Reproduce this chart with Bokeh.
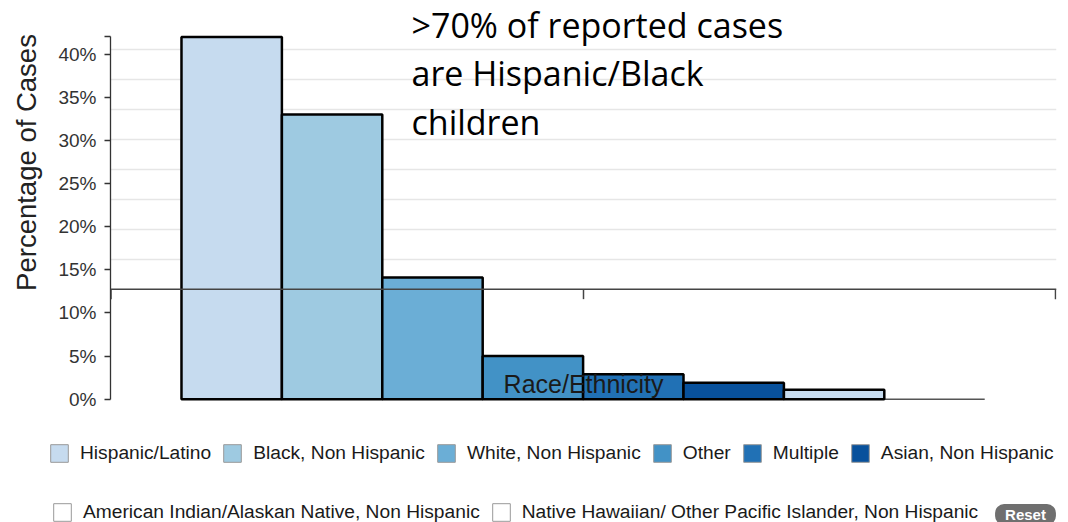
import math

from bokeh.plotting import figure
from bokeh.layouts import column, row
from bokeh.models import (ColumnDataSource, Range1d, FixedTicker, CustomJSTickFormatter,
                          Span, Label, Legend, LegendItem)
from bokeh.embed import file_html
from bokeh.resources import INLINE

# ---- data -------------------------------------------------------------
categories = [
    "Hispanic/Latino",
    "Black, Non Hispanic",
    "White, Non Hispanic",
    "Other",
    "Multiple",
    "Asian, Non Hispanic",
    "American Indian/Alaskan Native, Non Hispanic",
    "Native Hawaiian/ Other Pacific Islander, Non Hispanic",
]
pct_cases = [42.0, 33.0, 14.1, 5.0, 2.9, 1.9, 1.1, 0.0]
bar_colors = ["#c6dbef", "#9ecae1", "#6baed6", "#4292c6", "#2171b5", "#08519c",
              "#c6dbef", "#9ecae1"]
legend_colors = ["#c6dbef", "#9ecae1", "#6baed6", "#4292c6", "#2171b5", "#08519c",
                 "#ffffff", "#ffffff"]
y_ticks = [0, 5, 10, 15, 20, 25, 30, 35, 40]
y_axis_top = 42.0
ref_level = 12.75
grid_step = 3.47
annotation_lines = [">70% of reported cases", "are Hispanic/Black", "children"]
x_title = "Race/Ethnicity"
y_title = "Percentage of Cases"

SANS = "Liberation Sans"
CHART_H = 425
LEGEND_H = 522 - CHART_H


def blank_figure(width, height):
    f = figure(width=width, height=height, x_range=Range1d(0, 1), y_range=Range1d(0, 1),
               x_axis_type=None, y_axis_type=None, toolbar_location=None,
               output_backend="svg", min_border=0)
    f.outline_line_color = None
    f.grid.visible = False
    return f


# ---- y title strip ----------------------------------------------------
title_fig = blank_figure(50, CHART_H)
title_fig.add_layout(Label(x=26, y=CHART_H - 162, x_units="screen", y_units="screen",
                           text=y_title, angle=math.pi / 2,
                           text_align="center", text_baseline="middle",
                           text_font=SANS, text_font_size="27.5px", text_color="#222222"))

# ---- chart ------------------------------------------------------------
px_per_pct = 8.625
zero_px = 398.7
x_start, x_end = -0.707, 8.715
p = figure(width=1018, height=CHART_H,
           x_range=Range1d(x_start, x_end),
           y_range=Range1d(-(CHART_H - zero_px) / px_per_pct, zero_px / px_per_pct),
           x_axis_type=None, toolbar_location=None, output_backend="svg",
           min_border_left=60, min_border_right=12, min_border_top=0, min_border_bottom=0)
p.outline_line_color = None

# horizontal grid on its own spacing, starting above the reference line
p.xgrid.visible = False
p.ygrid.ticker = FixedTicker(ticks=[ref_level + k * grid_step for k in range(1, 9)])
p.ygrid.grid_line_color = "#e6e6e6"
p.ygrid.grid_line_width = 1.6

# y axis with an outer tick at the top end
ax = p.yaxis[0]
ax.ticker = FixedTicker(ticks=y_ticks + [y_axis_top])
ax.formatter = CustomJSTickFormatter(code="return tick > 41 ? '' : tick + '%';")
ax.bounds = (0, y_axis_top)
ax.major_tick_out = 6
ax.major_tick_in = 0
ax.minor_tick_line_color = None
ax.axis_line_color = "#333333"
ax.axis_line_width = 1.3
ax.major_tick_line_color = "#333333"
ax.major_tick_line_width = 1.3
ax.major_label_text_font = SANS
ax.major_label_text_font_size = "19px"
ax.major_label_text_color = "#333333"
ax.major_label_standoff = 8

# baseline under the category bands
p.segment(x0=[0], y0=[0], x1=[len(categories)], y1=[0],
          line_color="#555555", line_width=1.5)

# bars
shown = [i for i, v in enumerate(pct_cases) if v > 0]
src = ColumnDataSource(dict(
    left=[i for i in shown],
    right=[i + 1 for i in shown],
    top=[pct_cases[i] for i in shown],
    color=[bar_colors[i] for i in shown],
))
p.quad(left="left", right="right", bottom=0, top="top", source=src,
       fill_color="color", line_color="black", line_width=2.5)

# reference line with its ticks
p.add_layout(Span(location=ref_level, dimension="width",
                  line_color="#444444", line_width=1.5))
tick_x = [x_start + 0.005, (x_start + x_end) / 2, x_end - 0.01]
p.segment(x0=tick_x, y0=[ref_level] * 3, x1=tick_x, y1=[ref_level - 1.15] * 3,
          line_color="#444444", line_width=1.5)

# x title
p.add_layout(Label(x=473, y=CHART_H - 383, x_units="screen", y_units="screen", text=x_title,
                   text_align="center", text_baseline="alphabetic",
                   text_font=SANS, text_font_size="25px", text_color="#1a1a1a"))

# annotation
for i, line in enumerate(annotation_lines):
    p.add_layout(Label(x=301, y=CHART_H - 24 - i * 48.5, x_units="screen", y_units="screen",
                       text=line, text_align="left", text_baseline="alphabetic",
                       text_font="Open Sans", text_font_size="34px", text_color="black"))

# ---- legend strip -----------------------------------------------------
leg_fig = blank_figure(1068, LEGEND_H)
# one off-screen square per entry so each legend swatch takes its fill and border
swatches = [leg_fig.quad(left=[-10], right=[-9], bottom=[-10], top=[-9],
                         fill_color=c, line_color="#999999", line_width=1)
            for c in legend_colors]


def make_legend(idx, loc):
    return Legend(items=[LegendItem(label=categories[i], renderers=[swatches[i]]) for i in idx],
                  orientation="horizontal", location=loc,
                  glyph_width=22, glyph_height=22, label_standoff=10, spacing=10,
                  padding=0, margin=0, border_line_color=None,
                  background_fill_alpha=0, label_height=18,
                  label_text_font=SANS, label_text_font_size="19.2px",
                  label_text_color="#1a1a1a")


leg_fig.add_layout(make_legend(range(0, 6), (48, LEGEND_H - 39)))
leg_fig.add_layout(make_legend(range(6, 8), (51, LEGEND_H - 98)))

# reset pill
leg_fig.add_layout(Label(x=1025, y=LEGEND_H - 89, x_units="screen", y_units="screen",
                         text="Reset", text_align="center", text_baseline="middle",
                         text_font=SANS, text_font_size="15px", text_font_style="bold",
                         text_color="white", background_fill_color="#6f6f6f",
                         border_radius=9, padding=dict(left=10, right=10, top=2, bottom=2)))

layout = column(row(title_fig, p), leg_fig)
open("out.html", "w").write(file_html(layout, INLINE))
